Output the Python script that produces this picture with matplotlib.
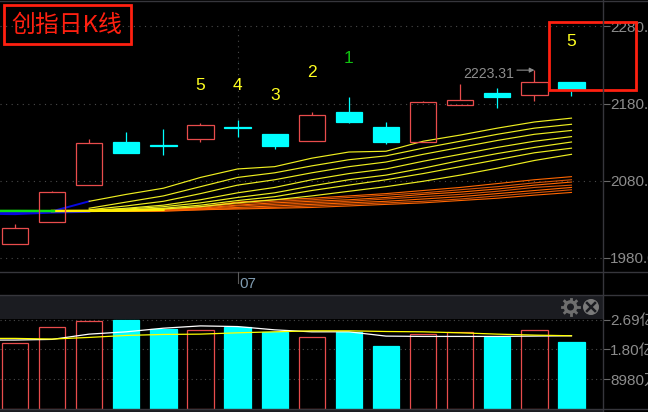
import numpy as np
import matplotlib
matplotlib.use('Agg')
import matplotlib.pyplot as plt
from matplotlib.patches import Rectangle, Circle

plt.rcParams['font.family'] = ['Liberation Sans', 'Noto Sans CJK SC', 'DejaVu Sans']

# candles
idx = np.arange(16)
opens = [1998.2, 2026.1, 2074.2, 2130, 2125.5, 2133.9, 2149.5, 2140.4, 2131.3, 2169, 2149.5, 2129.4, 2178.7, 2193.6, 2190.4, 2207.9]
closes = [2018.3, 2065.1, 2128.7, 2115.1, 2124.2, 2152.7, 2148.2, 2124.2, 2165.1, 2156, 2130, 2182, 2184.5, 2188.4, 2207.9, 2198.8]
highs = [2023.5, 2066.4, 2133.9, 2143, 2146.9, 2154.7, 2158.6, 2140.4, 2169, 2188.4, 2156, 2183.2, 2205.3, 2200.1, 2223.31, 2207.9]
lows = [1998.2, 2026.1, 2074.2, 2115.1, 2113.1, 2130, 2136.5, 2120.9, 2131.3, 2154.7, 2127.4, 2129.4, 2178.7, 2174.2, 2183.2, 2189.7]

# moving averages, yellow fan
ma_idx = np.arange(2, 16)
yellow_mas = [
    [2053, 2062, 2070, 2084, 2095, 2098, 2109, 2117, 2118, 2131, 2139, 2148, 2156, 2161],
    [2044, 2052, 2060, 2072, 2084, 2090, 2099, 2107, 2112, 2122, 2131, 2140, 2148, 2153],
    [2042, 2047, 2053, 2063, 2074, 2081, 2090, 2098, 2104, 2114, 2123, 2132, 2140, 2145],
    [2041, 2044, 2048, 2055, 2064, 2071, 2081, 2089, 2095, 2105, 2114, 2123, 2131, 2137],
    [2041, 2043, 2046, 2051, 2058, 2064, 2073, 2081, 2087, 2096, 2106, 2115, 2123, 2130],
    [2040.5, 2042, 2044, 2048, 2054, 2059, 2067, 2074, 2081, 2089, 2098, 2107, 2116, 2122],
    [2040, 2041, 2043, 2046, 2051, 2055, 2060, 2066, 2072, 2079, 2087, 2096, 2106, 2114],
]
# moving averages, orange band
orange_mas = [
    [2040, 2041, 2043, 2046, 2052, 2055, 2057, 2060, 2063, 2067, 2071, 2076, 2081, 2085],
    [2040, 2041, 2042, 2045, 2050, 2053, 2055, 2058, 2061, 2064, 2068, 2072, 2077, 2081],
    [2040, 2040.5, 2042, 2044, 2048, 2051, 2053, 2055, 2058, 2062, 2065, 2069, 2074, 2078],
    [2040, 2040, 2041, 2043, 2047, 2049, 2051, 2053, 2056, 2059, 2062, 2066, 2071, 2074],
    [2040, 2040, 2041, 2043, 2045, 2047, 2049, 2051, 2053, 2056, 2059, 2063, 2067, 2071],
    [2040, 2040, 2041, 2042, 2044, 2045, 2047, 2049, 2051, 2053, 2056, 2060, 2064, 2068],
    [2040, 2040, 2040, 2042, 2043, 2044, 2045, 2047, 2049, 2051, 2054, 2057, 2061, 2064.5],
]
# short averages on the left edge
green_idx = [-1, 0, 1, 1.05]
green_ma = [2040.5, 2040.5, 2040.4, 2040.4]
blue_idx = [-1, 0, 1, 2]
blue_low = [2037, 2036.5, 2038.5, 2039.5]
blue_up = [2038, 2038, 2040, 2053]

# marks above the candles
count_idx = [5, 6, 7, 8, 9, 15]
count_y = [2204, 2204, 2190, 2220, 2239, 2260]
count_txt = ['5', '4', '3', '2', '1', '5']
count_col = ['#ffff20', '#ffff20', '#ffff20', '#ffff20', '#10c010', '#ffff20']

# volume (亿)
vols = [1.98, 2.47, 2.66, 2.69, 2.41, 2.38, 2.49, 2.33, 2.16, 2.32, 1.90, 2.26, 2.32, 2.18, 2.38, 2.02]
vol_idx = np.arange(-1, 16)
vol_white = [2.08, 2.08, 2.10, 2.26, 2.33, 2.44, 2.51, 2.49, 2.39, 2.33, 2.33, 2.20, 2.19, 2.19, 2.19, 2.20, 2.21]
vol_yellow = [2.13, 2.13, 2.11, 2.16, 2.22, 2.25, 2.26, 2.30, 2.33, 2.36, 2.36, 2.34, 2.33, 2.30, 2.26, 2.23, 2.21]

price_ticks = [1980, 2080, 2180, 2280]
price_labels = ['1980.00', '2080.00', '2180.00', '2280.00']
vol_ticks = [0.898, 1.80, 2.69]
vol_labels = ['8980万', '1.80亿', '2.69亿']

W, H = 648, 412
RED = '#e84c4c'
CYAN = '#00ffff'
GREY = '#8c8c8c'
LINE = '#36363c'
GRID = '#4a4a4a'
BOX = '#ff2010'
X0, X1 = -0.404, 15.836


def px_axes(x0, y0, x1, y1, **kw):
    return fig.add_axes([x0 / W, 1 - y1 / H, (x1 - x0) / W, (y1 - y0) / H], **kw)


fig = plt.figure(figsize=(W / 100, H / 100), dpi=100, facecolor='black')

# price panel
ax = px_axes(0, 2, 602.5, 272, facecolor='black')
ax.set_xlim(X0, X1)
ax.set_ylim(1961.2, 2311.8)
for s in ax.spines.values():
    s.set_visible(False)
ax.set_xticks([])
ax.yaxis.tick_right()
ax.set_yticks(price_ticks, price_labels)
ax.tick_params(axis='y', length=5, width=0.8, color='#6a6a6a', labelcolor=GREY, labelsize=11, pad=0.5)
ax.grid(axis='y', color=GRID, lw=0.8, ls=(0, (1, 4)), zorder=0)
ax.vlines(6, 1980, 2280, color=GRID, lw=0.8, ls=(0, (1, 4)), zorder=0)

# alternate two oranges so the band keeps its stripes
for i, ma in enumerate(orange_mas):
    ax.plot(ma_idx, ma, color='#ff6600' if i % 2 == 0 else '#d85408', lw=0.8, zorder=2)
ax.plot(blue_idx, blue_low, color='#0808e0', lw=1.6, zorder=2)
ax.plot(blue_idx, blue_up, color='#0808e0', lw=1.4, zorder=2)
for ma in yellow_mas:
    ax.plot(ma_idx, ma, color='#eeee20', lw=0.85, zorder=3)
ax.plot([1, 2, 3, 4], [2040.4, 2040.6, 2041, 2042], color='#ffee00', lw=1.8, zorder=3)
ax.plot(green_idx, green_ma, color='#10e010', lw=1.8, zorder=4)

for i in idx:
    up = closes[i] >= opens[i]
    col = RED if up else CYAN
    bottom = min(opens[i], closes[i])
    top = max(opens[i], closes[i])
    ax.vlines(i, lows[i], bottom, color=col, lw=0.9, zorder=5)
    ax.vlines(i, top, highs[i], color=col, lw=0.9, zorder=5)
    ax.add_patch(Rectangle((i - 0.355, bottom), 0.71, top - bottom, facecolor='none' if up else CYAN,
                           edgecolor=col, lw=0.9, zorder=5))

for x, y, t, c in zip(count_idx, count_y, count_txt, count_col):
    ax.text(x, y, t, color=c, fontsize=12.5, ha='center', va='center', zorder=7)

ax.text(13.45, 2218.5, '2223.31', color=GREY, fontsize=10.2, ha='right', va='center', zorder=6)
ax.annotate('', xy=(14, 2223.31), xytext=(13.53, 2223.31),
            arrowprops=dict(arrowstyle='-|>', color=GREY, lw=0.8, mutation_scale=7, shrinkA=0, shrinkB=0))

# volume panel
av = px_axes(0, 318, 602.5, 408.5, facecolor='black')
av.set_xlim(X0, X1)
av.set_ylim(0, 2.75)
for s in av.spines.values():
    s.set_visible(False)
av.set_xticks([])
av.yaxis.tick_right()
av.set_yticks(vol_ticks, vol_labels)
av.tick_params(axis='y', length=5, width=0.8, color='#6a6a6a', labelcolor=GREY, labelsize=11, pad=0.5)
av.grid(axis='y', color=GRID, lw=0.8, ls=(0, (1, 3)), zorder=0)
for i in idx:
    up = closes[i] >= opens[i]
    av.bar(i, vols[i], width=0.71, facecolor='none' if up else CYAN,
           edgecolor=RED if up else CYAN, lw=0.9, zorder=3)
av.plot(vol_idx, vol_white, color='white', lw=0.9, zorder=4)
av.plot(vol_idx, vol_yellow, color='#ffff00', lw=0.9, zorder=4)

# frame, title, boxes and icons in pixel coordinates
top = fig.add_axes([0, 0, 1, 1], facecolor='none', zorder=10)
top.set_xlim(0, W)
top.set_ylim(H, 0)
top.axis('off')
top.add_patch(Rectangle((0, 295), 602.5, 23.5, facecolor='#1b1c21', edgecolor='none'))
top.add_patch(Rectangle((0, 409), 602.5, 3, facecolor='#1b1c21', edgecolor='none'))
for y in [1, 272, 294.5, 408.5]:
    top.plot([0, W], [y, y], color=LINE, lw=1)
top.plot([602.5, 602.5], [0, H], color=LINE, lw=1)

top.plot([238, 238], [272, 283], color='#5a5a5a', lw=0.8)
top.text(239.5, 284, '07', color='#7f9bb0', fontsize=11, ha='left', va='center')

top.add_patch(Rectangle((4, 5), 127, 39, facecolor='none', edgecolor=BOX, lw=2))
top.text(67, 25, '创指日K线', color=BOX, fontsize=17.2, ha='center', va='center',
         family=['Noto Sans CJK SC', 'DejaVu Sans'])
top.add_patch(Rectangle((549, 21.5), 86.5, 68, facecolor='none', edgecolor=BOX, lw=2))

# gear icon
top.add_patch(Circle((570.5, 307), 5.2, facecolor='none', edgecolor='#6e6e6e', lw=2.4))
for a in np.arange(8) * np.pi / 4:
    top.plot([570.5 + 6 * np.cos(a), 570.5 + 8.2 * np.cos(a)], [307 + 6 * np.sin(a), 307 + 8.2 * np.sin(a)],
             color='#6e6e6e', lw=2)
# close icon
top.add_patch(Circle((591, 307), 8, facecolor='#7a7a7a', edgecolor='none'))
top.plot([587, 595], [303, 311], color='#1b1c21', lw=1.8)
top.plot([587, 595], [311, 303], color='#1b1c21', lw=1.8)

fig.savefig('out.png', dpi=100, facecolor='black')
